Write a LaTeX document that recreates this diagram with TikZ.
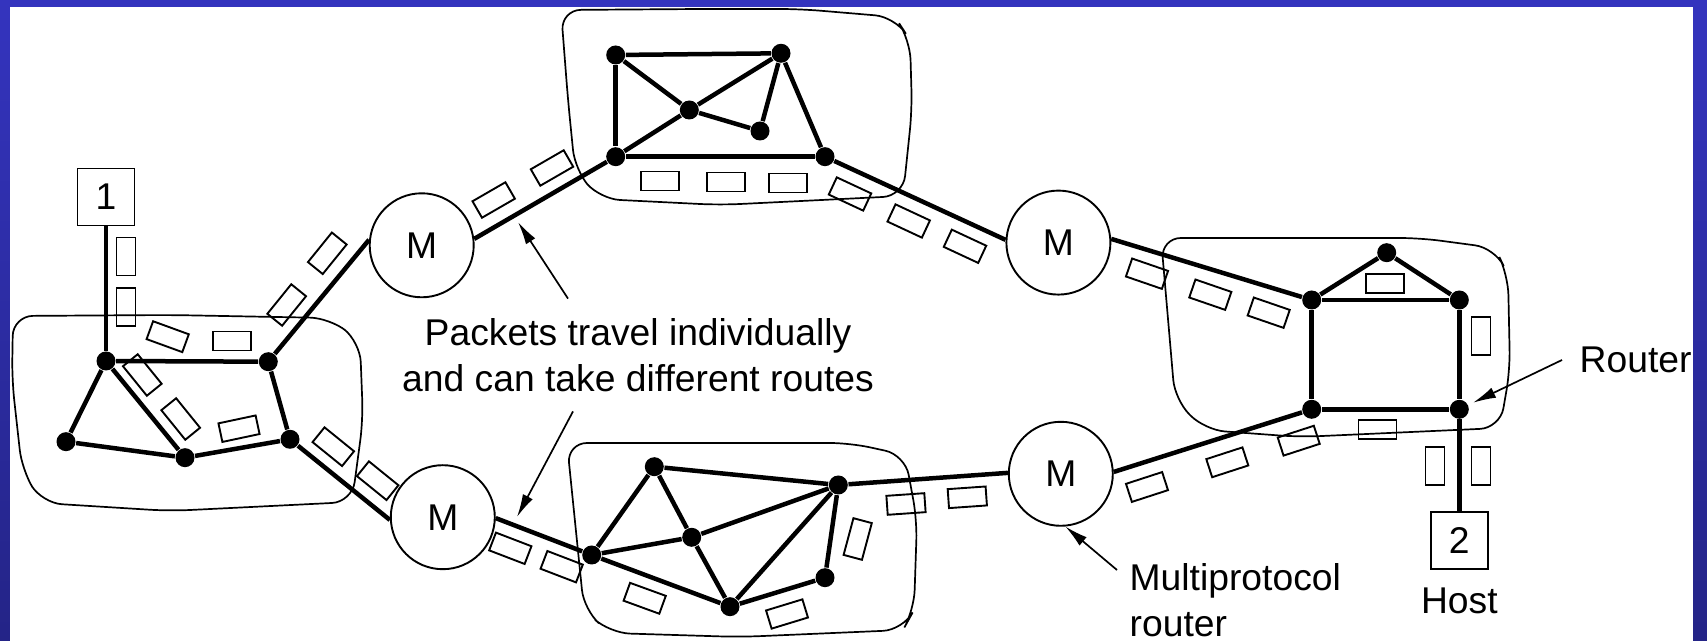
\documentclass[tikz,border=0pt]{standalone}
\usepackage{fontspec}
\setmainfont{Liberation Sans}
\usetikzlibrary{arrows.meta,positioning}

\definecolor{slideblue}{RGB}{52,52,190}
\definecolor{slidedeep}{RGB}{36,36,135}

\tikzset{
  router/.style={circle, fill=black, inner sep=0pt, minimum size=1.9mm},
  link/.style={line width=0.45mm},
  mprouter/.style={circle, draw, line width=0.19mm, minimum size=10.4mm, inner sep=0pt},
  hostbox/.style={draw, line width=0.19mm, minimum size=5.7mm, inner sep=0pt},
  packet/.style={draw, line width=0.19mm, minimum width=3.8mm, minimum height=1.9mm, inner sep=0pt},
  subnet/.style={line width=0.17mm, rounded corners=2mm},
  pointer/.style={line width=0.17mm, -{Latex[length=2.3mm,width=1.1mm]}},
}

\begin{document}
\begin{tikzpicture}[x=0.1mm, y=-0.1mm, font=\fontsize{10.6}{13.1}\selectfont]
  \useasboundingbox (0,0) rectangle (1707,641);
  \shade[top color=slideblue, bottom color=slidedeep] (0,0) rectangle (1707,641);
  \fill[white] (10,7) rectangle (1693,641);
  \begin{scope}
  \clip (10,7) rectangle (1693,641);

  % networks
  \draw[subnet] (170,315) -- (330,318) -- (360,342) -- (363,420) -- (352,502) -- (170,511)
    -- (42,503) -- (22,470) -- (12,380) -- (13,316) -- cycle;
  \draw[subnet] (700,9) -- (800,9) -- (895,17) -- (910,40) -- (912,110) -- (903,196)
    -- (720,205) -- (600,199) -- (575,170) -- (568,100) -- (561,10) -- cycle;
  \draw[subnet] (1300,238) -- (1420,238) -- (1495,248) -- (1508,275) -- (1510,370)
    -- (1500,428) -- (1300,437) -- (1205,430) -- (1175,400) -- (1161,238) -- cycle;
  \draw[subnet] (700,443) -- (850,443) -- (905,455) -- (917,520) -- (914,610) -- (903,630)
    -- (740,637) -- (610,633) -- (584,610) -- (567,443) -- cycle;

  \foreach \name/\x/\y in {la/106/361, lb/268.3/361.7, lc/66/441.7, ld/185/457.7, le/290/439.3,
      tf/615.7/156.7, tg/615.7/55, th/781/53.3, ti/689.3/110, tj/760/131, tk/825/156.7,
      rr/1386.7/252.7, rp/1311.7/300, rs/1459.3/300, rq/1311.7/409.3, rt/1459.3/409.3,
      bv/591.7/555, bw/654.3/466.7, bx/691.7/537.3, by/730/606.7, bu/838.3/485, bz/825/577.7}
    \node[router] (\name) at (\x,\y) {};

  \foreach \u/\v in {la/lb, la/lc, la/ld, lc/ld, ld/le, lb/le,
      tg/th, tg/tf, tg/ti, ti/th, tf/ti, ti/tj, tj/th, th/tk, tf/tk,
      rr/rp, rr/rs, rp/rs, rp/rq, rs/rt, rq/rt,
      bv/bw, bw/bu, bw/bx, bv/bx, bx/bu, bv/by, bx/by, by/bu, by/bz, bz/bu}
    \draw[link] (\u) -- (\v);

  \node[mprouter] (m1) at (421.7,245.3) {M};
  \node[mprouter] (m2) at (1058.4,242.6) {M};
  \node[mprouter] (m3) at (442.8,517.2) {M};
  \node[mprouter] (m4) at (1060.8,473.8) {M};

  \node[hostbox] (host1) at (106,197) {1};
  \node[hostbox] (host2) at (1459.3,540.8) {2};

  \draw[link] (host1) -- (la);
  \draw[link] (rt) -- (host2);
  \draw[link] (lb) -- (m1.174);
  \draw[link] (m1.7) -- (tf);
  \draw[link] (tk) -- (m2.177);
  \draw[link] (m2.4) -- (rp);
  \draw[link] (le) -- (m3.183);
  \draw[link] (m3.-1) -- (bv);
  \draw[link] (bu) -- (m4.179);
  \draw[link] (m4.2) -- (rq);

  % packets on their way
  \foreach \x/\y/\a [count=\n] in {126/256.5/90, 126/306.7/90, 167.7/336.7/-20, 232.3/341/0,
      286.7/305/51, 327.3/253.3/51, 142.3/375/-51, 180.7/419/-51, 239/428.7/12,
      333.3/446.7/-39, 377.7/480.7/-39,
      493.7/200/30, 552/168/30, 660.3/181/0, 726.3/182/0, 787.7/183/0,
      850/194/-25, 908.7/221/-25, 965/246.3/-25,
      1147/273.7/-19, 1210.3/294.7/-19, 1268.7/312.7/-19, 1385/283.3/0, 1481/336/90,
      1377.5/429.7/0, 1435/466.3/90, 1481/466.3/90, 1298.7/440.7/18, 1227.3/462.3/18, 1147/487/18,
      906/504/4, 967.3/497.3/4, 857.7/539/75, 644.7/598.3/-20, 787/614/17,
      510.3/548.3/-21, 561.7/566.7/-21}
    \node[packet, rotate=\a] (pk\n) at (\x,\y) {};

  \node[align=center, inner sep=1.9mm] (txt) at (638,355)
    {Packets travel individually\\and can take different routes};
  \node[align=left, anchor=north west, inner sep=0pt] (mptxt) at (1129,563) {Multiprotocol\\router};
  \node[anchor=west, inner xsep=1.7mm, inner ysep=0pt] (rtrtxt) at (1562,360) {Router};
  \node[below=1.7mm of host2, inner sep=0pt] (hosttxt) {Host};

  \coordinate (hitup) at (518,222);
  \coordinate (hitdown) at (517,517);
  \draw[pointer] ([xshift=-7mm]txt.north) -- (hitup);
  \draw[pointer] ([xshift=-6.5mm]txt.south) -- (hitdown);
  \draw[pointer] ([shift={(-1.2mm,-0.7mm)}]mptxt.north west) -- (m4.-85);
  \draw[pointer, shorten >=0.5mm] (rtrtxt.west) -- (rt);
  \end{scope}
\end{tikzpicture}
\end{document}
